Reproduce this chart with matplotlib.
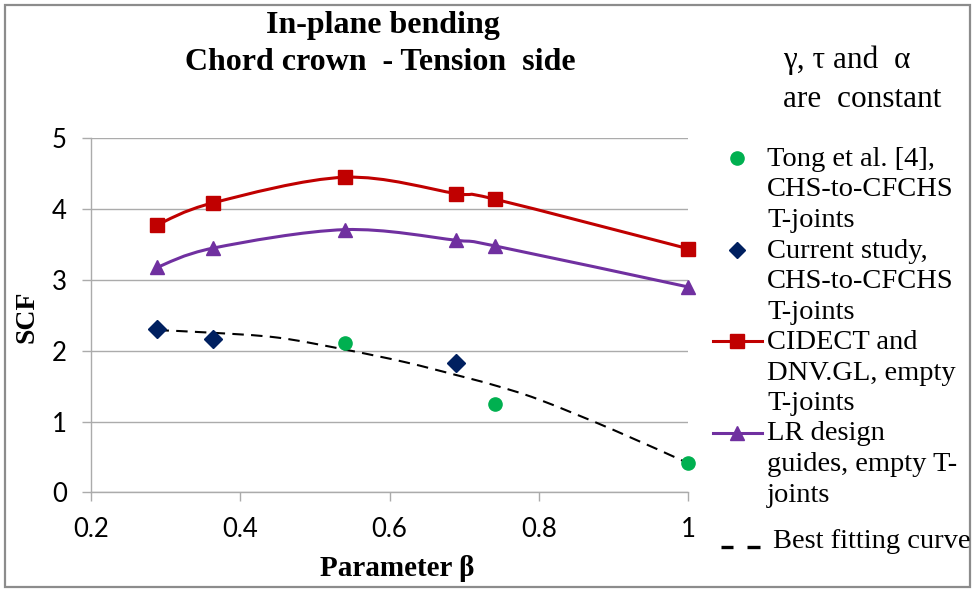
import numpy as np
import matplotlib
matplotlib.use('Agg')
import matplotlib.pyplot as plt
from matplotlib.path import Path
from matplotlib.patches import PathPatch, Rectangle
from matplotlib.lines import Line2D

# data
beta = [0.289, 0.364, 0.540, 0.689, 0.741, 1.000]
scf_cidect = [3.78, 4.09, 4.45, 4.22, 4.14, 3.44]
scf_lr = [3.18, 3.45, 3.71, 3.56, 3.48, 2.90]

beta_current = [0.289, 0.364, 0.689]
scf_current = [2.31, 2.16, 1.82]

beta_tong = [0.540, 0.741, 1.000]
scf_tong = [2.11, 1.25, 0.42]

beta_fit = [0.289, 0.36, 0.45, 0.54, 0.62, 0.69, 0.74, 0.80, 0.90, 1.00]
scf_fit = [2.29, 2.255, 2.185, 2.016, 1.84, 1.654, 1.513, 1.31, 0.88, 0.41]

x_ticks = [0.2, 0.4, 0.6, 0.8, 1.0]
x_ticklabels = ['0.2', '0.4', '0.6', '0.8', '1']
y_ticks = [0, 1, 2, 3, 4, 5]
y_ticklabels = ['0', '1', '2', '3', '4', '5']

title_lines = ['In-plane bending', 'Chord crown  - Tension  side']
note_lines = ['\u03b3, \u03c4 and  \u03b1', 'are  constant']
legend_entries = [
    ['Tong et al. [4],', 'CHS-to-CFCHS', 'T-joints'],
    ['Current study,', 'CHS-to-CFCHS', 'T-joints'],
    ['CIDECT and', 'DNV.GL, empty', 'T-joints'],
    ['LR design', 'guides, empty T-', 'joints'],
]
fit_label = 'Best fitting curve'

RED = '#C00000'
PURPLE = '#7030A0'
NAVY = '#002060'
GREEN = '#00B050'
GRID = '#ABABAB'

W, H = 974, 589
SERIF = 'Liberation Serif'
SANS = 'Lato'


def fx(px):
    return px / W


def fy(py):
    return 1 - py / H


def smooth_path(xs, ys):
    # Excel-like smoothed line (Catmull-Rom converted to cubic Bezier)
    pts = np.column_stack([xs, ys]).astype(float)
    n = len(pts)
    verts = [pts[0]]
    codes = [Path.MOVETO]
    for i in range(n - 1):
        p0 = pts[i - 1] if i > 0 else pts[i]
        p1 = pts[i]
        p2 = pts[i + 1]
        p3 = pts[i + 2] if i + 2 < n else pts[i + 1]
        verts += [p1 + (p2 - p0) / 6, p2 - (p3 - p1) / 6, p2]
        codes += [Path.CURVE4] * 3
    return Path(verts, codes)


fig = plt.figure(figsize=(W / 100, H / 100), dpi=100)
ax = fig.add_axes([fx(91), fy(492.3), fx(688.3) - fx(91), fy(138.3) - fy(492.3)])

ax.set_xlim(0.2, 1.0)
ax.set_ylim(0, 5)

# smoothed lines
ax.add_patch(PathPatch(smooth_path(beta, scf_cidect), fill=False, edgecolor=RED,
                       lw=2.2, zorder=3, clip_on=False))
ax.add_patch(PathPatch(smooth_path(beta, scf_lr), fill=False, edgecolor=PURPLE,
                       lw=2.2, zorder=3, clip_on=False))
ax.add_patch(PathPatch(smooth_path(beta_fit, scf_fit), fill=False, edgecolor='black',
                       lw=1.5, linestyle=(0, (5.5, 3.5)), zorder=3, clip_on=False))

# markers
ax.plot(beta, scf_cidect, ls='none', marker='s', ms=10, color=RED, zorder=5, clip_on=False)
ax.plot(beta, scf_lr, ls='none', marker='^', ms=10.5, color=PURPLE, zorder=5, clip_on=False)
ax.plot(beta_current, scf_current, ls='none', marker='D', ms=9, color=NAVY, zorder=5, clip_on=False)
ax.plot(beta_tong, scf_tong, ls='none', marker='o', ms=9.5, color=GREEN, zorder=5, clip_on=False)

# axes styling
for side in ['top', 'right']:
    ax.spines[side].set_visible(False)
for side in ['left', 'bottom']:
    ax.spines[side].set_color(GRID)
    ax.spines[side].set_linewidth(1.0)
ax.yaxis.grid(True, color=GRID, lw=1.0)
ax.set_axisbelow(True)
ax.set_xticks(x_ticks)
ax.set_xticklabels(x_ticklabels)
ax.set_yticks(y_ticks)
ax.set_yticklabels(y_ticklabels)
ax.tick_params(axis='both', direction='out', length=6.5, width=1.0, color=GRID,
               labelsize=18.5, pad=11)
for lab in ax.get_xticklabels() + ax.get_yticklabels():
    lab.set_family(SANS)

# titles and axis labels
fig.text(fx(383), fy(25), title_lines[0], family=SERIF, weight='bold', fontsize=23,
         ha='center', va='center')
fig.text(fx(380), fy(63), title_lines[1], family=SERIF, weight='bold', fontsize=23,
         ha='center', va='center')
fig.text(fx(26.7), fy(316.7), 'SCF', family=SERIF, weight='bold', fontsize=20,
         rotation=90, ha='center', va='center')
fig.text(fx(396.7), fy(568.3), 'Parameter \u03b2', family=SERIF, weight='bold', fontsize=21,
         ha='center', va='center')

# note above the legend
fig.text(fx(783), fy(68.3), note_lines[0], family=SERIF, fontsize=22.5, ha='left', va='baseline')
fig.text(fx(783), fy(106.7), note_lines[1], family=SERIF, fontsize=22.5, ha='left', va='baseline')

# legend, drawn by hand so markers line up with the first text line
line_gap = 30.5
base = 166
text_x = 767
handles = [
    dict(color=GREEN, marker='o', ms=9.5, line=False),
    dict(color=NAVY, marker='D', ms=8, line=False),
    dict(color=RED, marker='s', ms=10, line=True),
    dict(color=PURPLE, marker='^', ms=10, line=True),
]
for k, (lines, h) in enumerate(zip(legend_entries, handles)):
    y0 = base + 3 * k * line_gap
    ymark = y0 - 8
    if h['line']:
        fig.add_artist(Line2D([fx(712.7), fx(761.7)], [fy(ymark), fy(ymark)],
                              color=h['color'], lw=2.2))
    fig.add_artist(Line2D([fx(737.3)], [fy(ymark)], color=h['color'], marker=h['marker'],
                          ms=h['ms'], ls='none'))
    for j, txt in enumerate(lines):
        fig.text(fx(text_x), fy(y0 + j * line_gap), txt, family=SERIF, fontsize=20.5,
                 ha='left', va='baseline')

for x0, x1 in [(720.7, 733.3), (746.7, 760)]:
    fig.add_artist(Line2D([fx(x0), fx(x1)], [fy(547), fy(547)], color='black', lw=2.4,
                          solid_capstyle='butt'))
fig.text(fx(772.7), fy(548.3), fit_label, family=SERIF, fontsize=20.5, ha='left', va='baseline')

# outer frame
fig.add_artist(Rectangle((fx(5), fy(587)), fx(970) - fx(5), fy(4.7) - fy(587),
                         transform=fig.transFigure, fill=False, edgecolor='#8C8C8C', lw=1.6))

fig.savefig('out.png', dpi=100)
